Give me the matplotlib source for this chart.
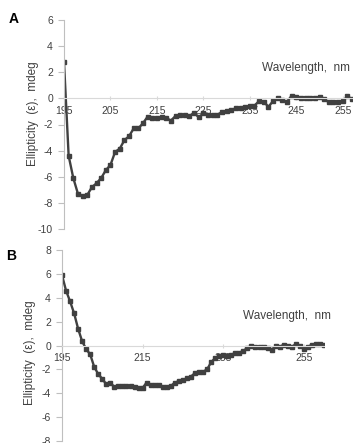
import matplotlib
matplotlib.use("Agg")
import matplotlib.pyplot as plt

plt.rcParams['font.family'] = ['Liberation Sans', 'DejaVu Sans']

# panel A: wavelength (nm) and ellipticity (mdeg)
wl_a = list(range(195, 258))
ell_a = [2.8, -4.4, -6.1, -7.3, -7.45, -7.4, -6.8, -6.5, -6.1, -5.5,
         -5.1, -4.1, -3.85, -3.2, -2.9, -2.3, -2.3, -1.9, -1.4, -1.5,
         -1.5, -1.45, -1.5, -1.7, -1.35, -1.3, -1.3, -1.35, -1.1, -1.45,
         -1.15, -1.3, -1.3, -1.25, -1.05, -0.95, -0.9, -0.75, -0.7, -0.65,
         -0.6, -0.55, -0.2, -0.25, -0.65, -0.2, 0.0, -0.15, -0.25, 0.2,
         0.1, 0.05, 0.05, 0.05, 0.05, 0.1, -0.05, -0.3, -0.25, -0.25,
         -0.2, 0.15, -0.05]

# panel B
wl_b = list(range(195, 261))
ell_b = [5.9, 4.6, 3.7, 2.7, 1.4, 0.35, -0.3, -0.75, -1.8, -2.4,
         -2.8, -3.25, -3.1, -3.5, -3.4, -3.4, -3.4, -3.4, -3.45, -3.6,
         -3.55, -3.1, -3.3, -3.35, -3.3, -3.5, -3.45, -3.4, -3.1, -3.0,
         -2.9, -2.75, -2.6, -2.3, -2.25, -2.2, -2.0, -1.4, -1.05, -0.85,
         -0.8, -0.85, -0.8, -0.6, -0.6, -0.45, -0.2, -0.05, -0.1, -0.1,
         -0.1, -0.2, -0.35, -0.05, -0.1, 0.05, -0.05, -0.1, 0.1, -0.05,
         -0.3, -0.1, 0.05, 0.1, 0.1, 0.05]

xt_a = [195, 205, 215, 225, 235, 245, 255]
yt_a = [6, 4, 2, 0, -2, -4, -6, -8, -10]
xt_b = [195, 215, 235, 255]
yt_b = [8, 6, 4, 2, 0, -2, -4, -6, -8]

W, H = 353, 443
fig = plt.figure(figsize=(W / 100, H / 100), dpi=100)

txt = '#404040'
line_c = '#404040'


def style(ax, xt, yt, xlim, ylim):
    for s in ('top', 'right'):
        ax.spines[s].set_visible(False)
    ax.spines['bottom'].set_position(('data', 0))
    ax.spines['bottom'].set_color('#d9d9d9')
    ax.spines['left'].set_color('#bfbfbf')
    ax.set_xlim(*xlim)
    ax.set_ylim(*ylim)
    ax.set_xticks(xt)
    ax.set_yticks(yt)
    ax.set_yticklabels([str(v) for v in yt])
    ax.tick_params(axis='y', length=4, color='#bfbfbf', labelsize=7.5,
                   labelcolor=txt, pad=4)
    ax.tick_params(axis='x', length=3, direction='inout', color='#d9d9d9',
                   labelsize=7.5, labelcolor=txt, pad=4)
    ax.patch.set_alpha(0)


# A
ax1 = fig.add_axes([64 / W, 1 - 229 / H, 289 / W, 209 / H])
ax1.plot(wl_a, ell_a, color=line_c, lw=1.7, marker='s', ms=3.4)
style(ax1, xt_a, yt_a, (195, 257.2), (-10, 6))
fig.text(14 / W, 1 - 19 / H, 'A', fontsize=10, fontweight='bold',
         ha='center', va='center', color='black')
fig.text(33 / W, 1 - 114 / H, 'Ellipticity  (\u03b5),  mdeg', rotation=90,
         fontsize=8.5, ha='center', va='center', color=txt)
fig.text(262 / W, 1 - 68 / H, 'Wavelength,  nm', fontsize=8.5,
         ha='left', va='center', color=txt)

# B
ax2 = fig.add_axes([62 / W, 1 - 441 / H, 262 / W, 191 / H])
ax2.plot(wl_b, ell_b, color=line_c, lw=1.7, marker='s', ms=3.4)
style(ax2, xt_b, yt_b, (195, 260), (-8, 8))
fig.text(11 / W, 1 - 256 / H, 'B', fontsize=10, fontweight='bold',
         ha='center', va='center', color='black')
fig.text(30 / W, 1 - 353 / H, 'Ellipticity  (\u03b5),  mdeg', rotation=90,
         fontsize=8.5, ha='center', va='center', color=txt)
fig.text(243 / W, 1 - 316 / H, 'Wavelength,  nm', fontsize=8.5,
         ha='left', va='center', color=txt)

fig.savefig('out.png', dpi=100)
